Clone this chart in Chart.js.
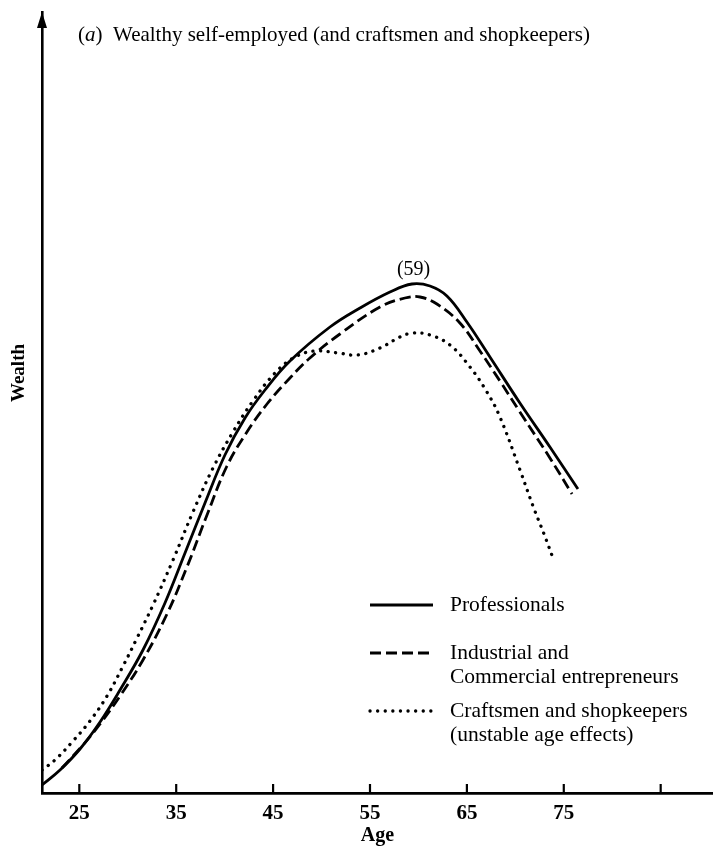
<!DOCTYPE html>
<html>
<head>
<meta charset="utf-8">
<script src="https://cdn.jsdelivr.net/npm/chart.js@4.4.1/dist/chart.umd.min.js"></script>
<style>
  html, body { margin: 0; padding: 0; background: #fff; }
  #c { display: block; }
</style>
</head>
<body>
<canvas id="c" width="713" height="846"></canvas>
<script>
// ---------- DATA ----------
const titleText = ['(', 'a', ')  Wealthy self-employed (and craftsmen and shopkeepers)'];
const xTitle = 'Age';
const yTitle = 'Wealth';
const xTickValues = [25, 35, 45, 55, 65, 75, 85];
const xTickLabels = ['25', '35', '45', '55', '65', '75', ''];
const peakLabel = '(59)';
const peakAge = 59.5;

const profAges   = [21.15, 23.01, 25.07, 27.14, 29.2, 31.57, 33.84, 35.91, 37.97, 40.03, 42.1, 44.16, 46.74, 50.87, 53.97, 57.06, 59.33, 61.19, 62.94, 65.0, 67.38, 70.47, 73.57, 76.46];
const profWealth = [0.8, 2.3, 4.4, 7.1, 10.3, 14.3, 19.0, 24.0, 29.0, 33.8, 37.5, 40.3, 43.2, 46.6, 48.5, 50.1, 50.9, 50.7, 49.7, 47.1, 43.6, 39.0, 34.6, 30.4];

const indAges   = [23.21, 25.38, 27.14, 29.2, 31.57, 34.05, 36.11, 38.18, 40.24, 42.3, 44.37, 46.74, 48.8, 51.9, 56.03, 58.61, 60.16, 61.91, 64.28, 66.35, 68.41, 70.47, 73.57, 75.85];
const indWealth = [2.5, 4.8, 6.9, 9.7, 13.3, 17.9, 22.6, 27.8, 32.7, 36.1, 38.9, 41.5, 43.5, 45.9, 48.6, 49.5, 49.6, 48.9, 47.0, 44.2, 41.2, 38.1, 33.5, 29.9];

const craftAges   = [21.15, 22.49, 24.35, 26.1, 27.86, 29.41, 30.96, 32.61, 34.67, 36.73, 38.8, 40.86, 42.92, 45.2, 47.26, 49.32, 51.7, 53.76, 56.03, 58.1, 59.44, 61.19, 63.25, 65.32, 67.07, 68.41, 70.48, 71.82, 72.96, 73.88];
const craftWealth = [2.3, 3.3, 5.2, 7.2, 9.7, 12.5, 15.5, 18.8, 23.3, 28.1, 32.5, 36.1, 39.2, 42.0, 43.6, 44.2, 44.0, 43.8, 44.5, 45.6, 46.0, 45.8, 44.8, 42.6, 40.1, 37.6, 32.3, 28.7, 25.9, 23.5];

const seriesNames = ['Professionals', 'Industrial and Commercial entrepreneurs', 'Craftsmen and shopkeepers (unstable age effects)'];
const legendLines = [['Professionals'], ['Industrial and', 'Commercial entrepreneurs'], ['Craftsmen and shopkeepers', '(unstable age effects)']];

// ---------- STYLES ----------
const SERIF = '"Liberation Serif", "DejaVu Serif", serif';
const styles = [
  { borderDash: [], borderWidth: 2.8, borderCapStyle: 'butt' },
  { borderDash: [11, 5], borderWidth: 2.8, borderCapStyle: 'butt' },
  { borderDash: [0.1, 7.5], borderWidth: 3.3, borderCapStyle: 'round' }
];

function pts(xs, ys) { return xs.map((x, i) => ({ x: x, y: ys[i] })); }

const decorPlugin = {
  id: 'decor',
  afterDraw(chart) {
    const ctx = chart.ctx;
    const xs = chart.scales.x, ys = chart.scales.y;
    const ca = chart.chartArea;
    ctx.save();
    ctx.fillStyle = '#000';
    ctx.strokeStyle = '#000';
    // arrow head on y axis
    ctx.beginPath();
    ctx.moveTo(ca.left, ca.top);
    ctx.lineTo(ca.left - 5, ca.top + 16);
    ctx.lineTo(ca.left + 5, ca.top + 16);
    ctx.closePath();
    ctx.fill();
    // tick marks (upward)
    ctx.lineWidth = 2.2;
    xTickValues.forEach(v => {
      const px = xs.getPixelForValue(v);
      ctx.beginPath();
      ctx.moveTo(px, ca.bottom);
      ctx.lineTo(px, ca.bottom - 9);
      ctx.stroke();
    });
    // title
    ctx.textBaseline = 'alphabetic';
    ctx.textAlign = 'left';
    let tx = 78;
    const ty = 41;
    titleText.forEach((s, i) => {
      ctx.font = (i === 1 ? 'italic ' : '') + '21px ' + SERIF;
      ctx.fillText(s, tx, ty);
      tx += ctx.measureText(s).width;
    });
    // y title
    ctx.save();
    ctx.translate(19, 373);
    ctx.rotate(-Math.PI / 2);
    ctx.font = 'bold 19px ' + SERIF;
    ctx.textAlign = 'center';
    ctx.textBaseline = 'middle';
    ctx.fillText(yTitle, 0, 0);
    ctx.restore();
    // peak label
    ctx.font = '20px ' + SERIF;
    ctx.textAlign = 'center';
    ctx.textBaseline = 'alphabetic';
    const peakW = Math.max(...profWealth);
    ctx.fillText(peakLabel, xs.getPixelForValue(peakAge), ys.getPixelForValue(peakW) - 9);
    // legend
    const lx0 = 370, lx1 = 433, tx0 = 450;
    const rowY = [605, 653, 711];
    legendLines.forEach((lines, i) => {
      const st = styles[i];
      ctx.save();
      ctx.lineWidth = st.borderWidth;
      ctx.setLineDash(st.borderDash);
      ctx.lineCap = st.borderCapStyle;
      ctx.beginPath();
      ctx.moveTo(lx0, rowY[i]);
      ctx.lineTo(lx1, rowY[i]);
      ctx.stroke();
      ctx.restore();
      ctx.font = '21.5px ' + SERIF;
      ctx.textAlign = 'left';
      ctx.textBaseline = 'middle';
      lines.forEach((t, j) => ctx.fillText(t, tx0, rowY[i] + j * 24));
    });
    ctx.restore();
  }
};

function build() {
  new Chart(document.getElementById('c'), {
    type: 'line',
    data: {
      datasets: [
        { label: seriesNames[0], data: pts(profAges, profWealth) },
        { label: seriesNames[1], data: pts(indAges, indWealth) },
        { label: seriesNames[2], data: pts(craftAges, craftWealth) }
      ].map((d, i) => Object.assign(d, styles[i], {
        borderColor: '#000', backgroundColor: '#000', fill: false,
        pointRadius: 0, pointHoverRadius: 0,
        cubicInterpolationMode: 'default', tension: 0.4
      }))
    },
    options: {
      responsive: false,
      devicePixelRatio: 1,
      animation: false,
      layout: { padding: { top: 12, left: 0, right: 0, bottom: 0 } },
      plugins: { legend: { display: false }, tooltip: { enabled: false }, title: { display: false } },
      scales: {
        x: {
          type: 'linear', min: 21.15, max: 90.4,
          afterBuildTicks: s => { s.ticks = xTickValues.map(v => ({ value: v })); },
          afterFit: s => { s.height = 53; },
          grid: { display: false, drawTicks: false },
          border: { display: true, color: '#000', width: 2.8 },
          ticks: {
            autoSkip: false, maxRotation: 0, padding: 8, color: '#000',
            font: { family: SERIF, size: 21, weight: 'bold' },
            callback: (v) => xTickLabels[xTickValues.indexOf(v)] ?? ''
          },
          title: {
            display: true, text: xTitle, color: '#000',
            font: { family: SERIF, size: 20, weight: 'bold', lineHeight: 1 },
            padding: { top: 0, bottom: 0 }
          }
        },
        y: {
          type: 'linear', min: 0, max: 78.1,
          afterFit: s => { s.width = 42; },
          grid: { display: false, drawTicks: false },
          border: { display: true, color: '#000', width: 2.6 },
          ticks: { display: false },
          title: { display: false }
        }
      }
    },
    plugins: [decorPlugin]
  });
}
if (document.fonts && document.fonts.load) {
  Promise.all([
    document.fonts.load('21px "Liberation Serif"'),
    document.fonts.load('bold 21px "Liberation Serif"'),
    document.fonts.load('italic 21px "Liberation Serif"')
  ]).then(build, build);
} else { build(); }
</script>
</body>
</html>
